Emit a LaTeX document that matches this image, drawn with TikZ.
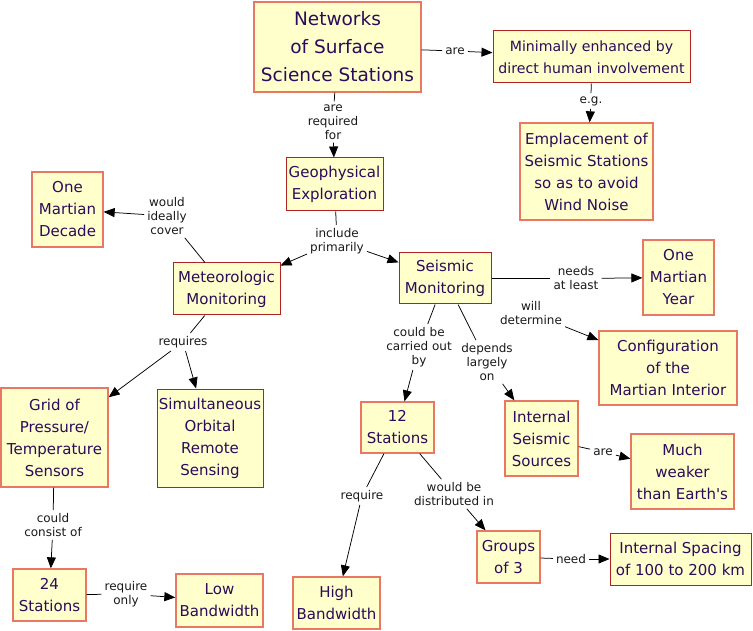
\documentclass[tikz,border=0pt]{standalone}
\usepackage{fontspec}
\setmainfont{DejaVu Sans}[Ligatures=TeXOff]
\usetikzlibrary{arrows.meta}
\definecolor{boxfill}{RGB}{255,255,204}
\definecolor{boxtext}{RGB}{45,10,90}
\definecolor{salmon}{RGB}{232,120,100}
\definecolor{darkred}{RGB}{175,35,35}
\definecolor{labtext}{RGB}{25,25,25}
\tikzset{
  cbox/.style={draw=salmon, line width=1.3pt, fill=boxfill, text=boxtext, align=center, inner sep=0pt, font=\fontsize{15}{22}\selectfont},
  dbox/.style={cbox, draw=darkred, line width=1pt},
  lab/.style={align=center, inner sep=3pt, text=labtext, font=\fontsize{12}{14}\selectfont},
  link/.style={draw=black, line width=0.75pt},
  arr/.style={link, -{Triangle[length=11pt,width=9pt]}},
}
\begin{document}
\begin{tikzpicture}[x=1pt,y=-1pt]
\useasboundingbox (0,0) rectangle (753,631);
\fill[white] (0,0) rectangle (753,631);
% boxes
\node[cbox, minimum width=167pt, minimum height=90pt, font=\fontsize{18.5}{28}\selectfont] (net) at (337.5,47) {Networks\\of Surface\\Science Stations};
\node[dbox, minimum width=197pt, minimum height=52pt, font=\fontsize{14.1}{22}\selectfont] (min) at (591.5,57) {Minimally enhanced by\\direct human involvement};
\node[cbox, minimum width=133pt, minimum height=97pt] (emp) at (586.5,171.5) {Emplacement of\\Seismic Stations\\so as to avoid\\Wind Noise};
\node[dbox, minimum width=97pt, minimum height=53pt] (geo) at (334.5,184.5) {Geophysical\\Exploration};
\node[cbox, minimum width=71pt, minimum height=75pt] (dec) at (67.5,209.5) {One\\Martian\\Decade};
\node[dbox, minimum width=107pt, minimum height=52pt] (met) at (226.5,289) {Meteorologic\\Monitoring};
\node[dbox, minimum width=92pt, minimum height=51pt] (sei) at (445,278.5) {Seismic\\Monitoring};
\node[cbox, minimum width=71pt, minimum height=75pt] (yr) at (678.5,277.5) {One\\Martian\\Year};
\node[cbox, minimum width=138pt, minimum height=74pt] (cfg) at (668,368) {Configuration\\of the\\Martian Interior};
\node[cbox, minimum width=73pt, minimum height=75pt] (iss) at (541.5,438.5) {Internal\\Seismic\\Sources};
\node[cbox, minimum width=103pt, minimum height=75pt] (weak) at (682.5,471.5) {Much\\weaker\\than Earth's};
\node[cbox, minimum width=73pt, minimum height=51pt] (s12) at (397.5,427.5) {12\\Stations};
\node[cbox, minimum width=107pt, minimum height=99pt] (grid) at (54.5,437.5) {Grid of\\Pressure/\\Temperature\\Sensors};
\node[dbox, minimum width=106pt, minimum height=98pt] (sim) at (210,438) {Simultaneous\\Orbital\\Remote\\Sensing};
\node[cbox, minimum width=73pt, minimum height=52pt] (s24) at (49.5,595) {24\\Stations};
\node[cbox, minimum width=87pt, minimum height=53pt] (low) at (219.5,600.5) {Low\\Bandwidth};
\node[cbox, minimum width=87pt, minimum height=52pt] (high) at (336.5,603) {High\\Bandwidth};
\node[cbox, minimum width=63pt, minimum height=52pt] (grp) at (508.5,557) {Groups\\of 3};
\node[dbox, minimum width=141pt, minimum height=52pt] (spc) at (680.5,559) {Internal Spacing\\of 100 to 200 km};
% linking phrases
\node[lab] (lare) at (455,51) {are};
\node[lab] (lreq) at (333,122) {are\\required\\for};
\node[lab] (leg) at (591,101) {e.g.};
\node[lab] (linc) at (337,241) {include\\primarily};
\node[lab] (lcov) at (167,216) {would\\ideally\\cover};
\node[lab] (lrqs) at (183,342) {requires};
\node[lab] (lnds) at (576,278.5) {needs\\at least};
\node[lab] (ldet) at (531,313) {will\\determine};
\node[lab] (lcar) at (419,347) {could be\\carried out\\by};
\node[lab] (ldep) at (487,362) {depends\\largely\\on};
\node[lab] (lare2) at (603,452) {are};
\node[lab] (lrq2) at (362,496) {require};
\node[lab] (ldis) at (454,494) {would be\\distributed in};
\node[lab] (lneed) at (571,559) {need};
\node[lab] (lcon) at (53,525) {could\\consist of};
\node[lab] (lonly) at (126,594) {require\\only};
% connectors
\draw[link] (net) -- (lare); \draw[arr] (lare) -- (min);
\draw[link] (net) -- (lreq); \draw[arr] (lreq) -- (geo);
\draw[link] (min) -- (leg); \draw[arr] (leg) -- (emp);
\draw[link] (geo) -- (linc); \draw[arr] (linc) -- (met); \draw[arr] (linc) -- (sei);
\draw[link] (met) -- (lcov); \draw[arr] (lcov) -- (dec);
\draw[link] (met) -- (lrqs); \draw[arr] (lrqs) -- (grid); \draw[arr] (lrqs) -- (sim);
\draw[link] (sei) -- (lnds); \draw[arr] (lnds) -- (yr);
\draw[arr] (ldet) -- (cfg);
\draw[link] (sei) -- (lcar); \draw[arr] (lcar) -- (s12);
\draw[link] (sei) -- (ldep); \draw[arr] (ldep) -- (iss);
\draw[link] (iss) -- (lare2); \draw[arr] (lare2) -- (weak);
\draw[link] (s12) -- (lrq2); \draw[arr] (lrq2) -- (high);
\draw[link] (s12) -- (ldis); \draw[arr] (ldis) -- (grp);
\draw[link] (grp) -- (lneed); \draw[arr] (lneed) -- (spc);
\draw[link] (grid) -- (lcon); \draw[arr] (lcon) -- (s24);
\draw[link] (s24) -- (lonly); \draw[arr] (lonly) -- (low);
\end{tikzpicture}
\end{document}
